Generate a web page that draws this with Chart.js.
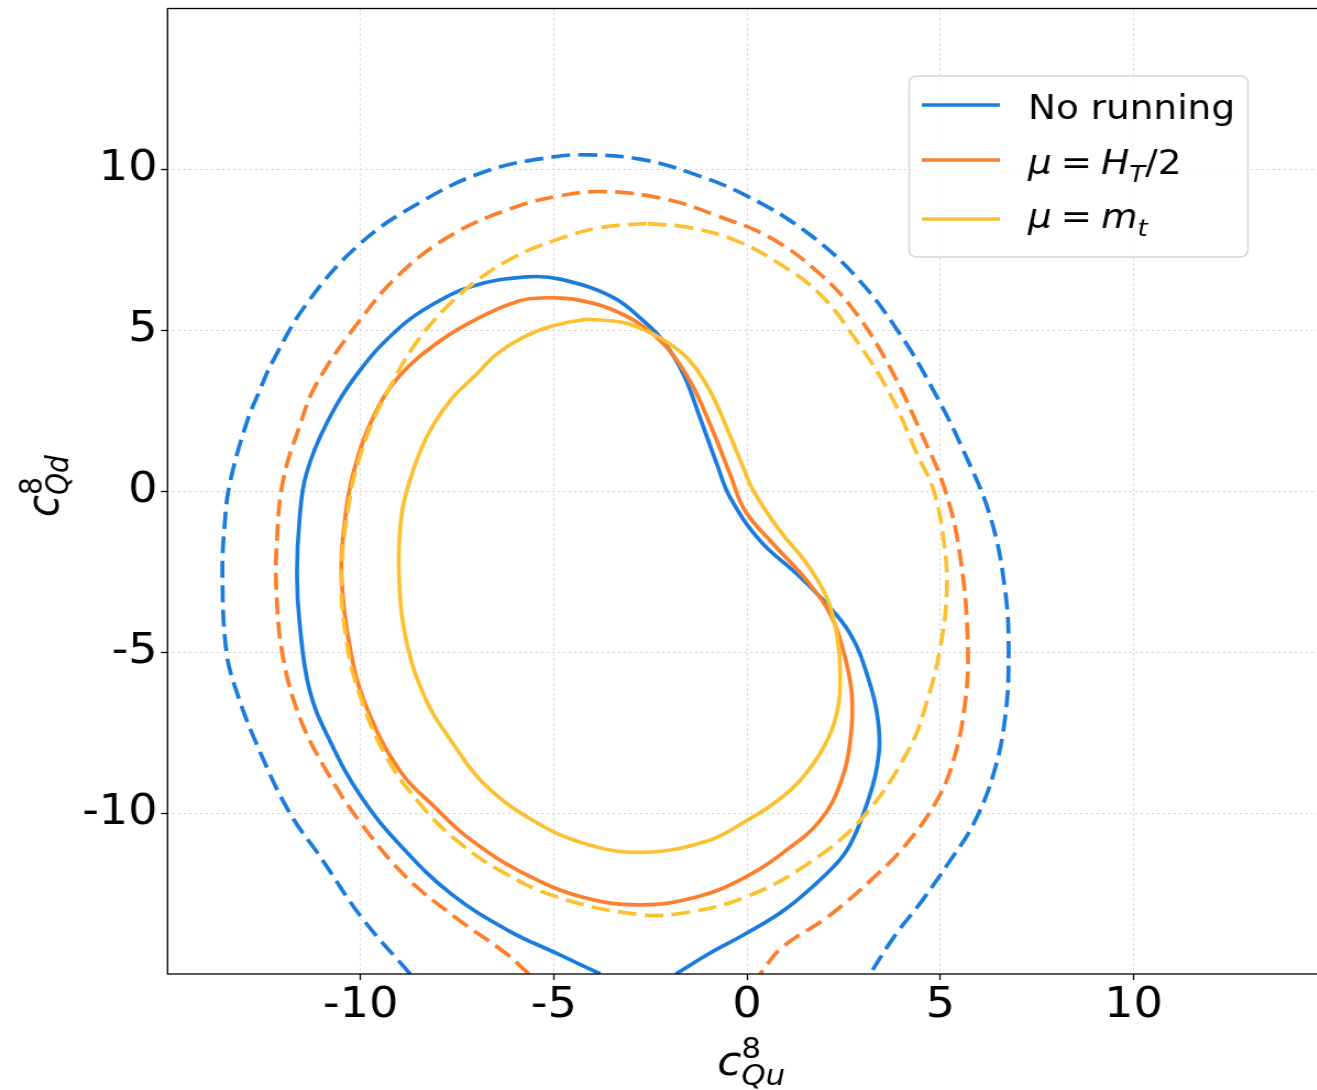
<!DOCTYPE html>
<html>
<head>
<meta charset="utf-8">
<script src="https://cdn.jsdelivr.net/npm/chart.js@4"></script>
<style>
  html, body { margin: 0; padding: 0; background: #fff; overflow: hidden; }
  #chart { display: block; transform: scaleX(1.1); transform-origin: 0 0; }
</style>
</head>
<body>
<canvas id="chart" width="1206" height="1090"></canvas>
<script>
// Ticks shown on both axes
const xTicks = [-10, -5, 0, 5, 10];
const yTicks = [-10, -5, 0, 5, 10];

// Legend labels and colours
const seriesLabels = ['No running', 'μ = H_T/2', 'μ = m_t'];
const seriesColors = ['#1a7ddd', '#fd7f2c', '#fbc132'];

// No running, outer contour (dashed)
const noRunDashX = [-8.72, -9.98, -11.04, -11.84, -12.62, -13.22, -13.48, -13.58, -13.52, -13.39, -12.96, -12.62, -12.27, -11.41, -10.03, -8.47, -6.74, -5.02, -4.07, -2.77, -1.48, -0.01, 1.55, 2.84, 3.96, 4.83, 5.60, 6.30, 6.68, 6.77, 6.68, 6.38, 5.86, 5.26, 4.53, 3.83, 3.18];
const noRunDashY = [-15.0, -13.24, -11.37, -9.99, -8.06, -6.20, -4.95, -2.57, -1.01, 0.23, 2.10, 3.12, 4.05, 5.81, 7.68, 8.97, 9.95, 10.39, 10.45, 10.32, 9.90, 9.18, 8.04, 6.64, 4.88, 3.12, 1.26, -0.81, -3.09, -5.06, -7.02, -8.78, -10.34, -11.47, -12.72, -13.80, -15.0];

// No running, inner contour (solid)
const noRunSolidX = [-3.80, -4.91, -6.18, -7.66, -8.93, -9.98, -10.80, -11.32, -11.58, -11.65, -11.58, -11.41, -10.89, -10.03, -8.99, -8.13, -7.09, -5.71, -4.84, -3.46, -2.69, -2.17, -1.65, -1.22, -0.78, -0.44, 0.34, 1.29, 2.06, 2.67, 3.10, 3.40, 3.36, 3.01, 2.58, 2.05, 1.00, -0.04, -0.99, -1.84];
const noRunSolidY = [-15.0, -14.37, -13.65, -12.51, -11.06, -9.51, -7.75, -6.20, -4.12, -2.57, -0.81, 0.53, 2.09, 3.74, 5.09, 5.81, 6.38, 6.66, 6.59, 6.02, 5.30, 4.67, 3.64, 2.29, 0.84, -0.19, -1.54, -2.57, -3.50, -4.43, -5.68, -7.23, -8.58, -10.02, -11.16, -11.89, -12.98, -13.75, -14.37, -15.0];

// mu = H_T/2, outer contour (dashed)
const htDashX = [-5.65, -6.23, -7.55, -8.82, -9.98, -10.89, -11.58, -12.01, -12.18, -12.17, -12.01, -11.58, -11.15, -10.03, -8.99, -7.61, -6.05, -4.84, -3.63, -2.08, -0.78, 0.60, 1.89, 2.84, 3.70, 4.48, 5.13, 5.52, 5.71, 5.65, 5.34, 4.91, 4.09, 3.19, 2.07, 0.91, 0.33];
const htDashY = [-15.0, -14.37, -13.24, -11.99, -10.34, -8.68, -7.02, -5.16, -3.19, -1.54, 0.33, 2.03, 3.33, 5.30, 6.75, 7.99, 8.81, 9.18, 9.31, 9.07, 8.56, 7.88, 6.75, 5.50, 3.84, 1.88, 0.02, -2.06, -4.64, -6.51, -8.37, -9.61, -11.01, -12.10, -13.24, -14.17, -15.0];

// mu = H_T/2, inner contour (solid)
const htSolidX = [-5.19, -4.50, -3.63, -2.77, -2.08, -1.48, -0.96, -0.44, -0.05, 0.68, 1.55, 2.15, 2.49, 2.71, 2.67, 2.41, 1.89, 1.01, -0.04, -1.31, -2.79, -4.27, -5.75, -7.13, -8.08, -8.99, -9.85, -10.28, -10.50, -10.41, -10.20, -9.68, -8.99, -7.95, -7.00, -5.88, -5.19];
const htSolidY = [6.02, 5.97, 5.71, 5.19, 4.47, 3.43, 2.09, 0.53, -0.61, -1.64, -2.78, -3.81, -4.95, -6.30, -7.75, -9.09, -10.23, -11.16, -11.99, -12.61, -12.85, -12.61, -11.89, -10.85, -9.82, -8.68, -6.71, -4.85, -2.57, -0.92, 0.53, 2.29, 3.59, 4.67, 5.35, 5.92, 6.02];

// mu = m_t, outer contour (dashed)
const mtDashX = [-2.60, -3.81, -5.02, -6.05, -7.00, -7.87, -8.65, -9.25, -9.68, -10.03, -10.28, -10.50, -10.37, -10.03, -9.33, -8.39, -7.52, -6.39, -4.91, -2.79, -1.52, -0.04, 1.44, 2.92, 4.17, 4.66, 5.00, 5.17, 5.09, 4.83, 4.40, 3.70, 2.84, 1.89, 0.85, -0.27, -1.48, -2.60];
const mtDashY = [8.32, 8.19, 7.78, 7.26, 6.54, 5.61, 4.47, 3.22, 2.19, 1.05, -0.19, -2.57, -4.64, -6.30, -8.27, -9.82, -10.85, -11.79, -12.61, -13.15, -13.08, -12.61, -11.68, -10.23, -8.06, -6.51, -4.85, -3.09, -1.54, 0.02, 1.16, 3.02, 4.67, 6.12, 7.06, 7.78, 8.19, 8.32];

// mu = m_t, inner contour (solid)
const mtSolidX = [-4.15, -3.20, -2.51, -1.99, -1.48, -0.96, -0.53, -0.10, 0.16, 0.85, 1.55, 2.06, 2.32, 2.41, 2.32, 1.98, 1.37, 0.68, -0.01, -0.99, -2.69, -4.17, -5.54, -6.81, -7.66, -8.30, -8.82, -9.01, -8.95, -8.73, -8.30, -7.69, -7.00, -6.48, -5.80, -5.02, -4.15];
const mtSolidY = [5.35, 5.24, 4.93, 4.57, 4.05, 3.12, 1.98, 0.74, 0.02, -1.23, -2.26, -3.30, -4.43, -5.68, -6.92, -7.96, -8.99, -9.71, -10.23, -10.85, -11.22, -10.96, -10.23, -9.09, -7.75, -6.51, -4.64, -2.57, -0.81, 0.33, 1.67, 2.81, 3.64, 4.26, 4.78, 5.14, 5.35];

const FONT = '"DejaVu Sans", "Liberation Sans", sans-serif';

const toPoints = (xs, ys) => xs.map((x, i) => ({ x: x, y: ys[i] }));

const makeSet = (xs, ys, color, dashed) => ({
  data: toPoints(xs, ys),
  showLine: true,
  borderColor: color,
  borderWidth: 3.7,
  borderDash: dashed ? [17, 7.5] : [],
  borderCapStyle: 'butt',
  borderJoinStyle: 'round',
  pointRadius: 0,
  tension: 0.4,
  fill: false
});

// split "c^{8}_{Qu}" style strings into runs
const parseMath = (s) => {
  const runs = [];
  let i = 0;
  while (i < s.length) {
    const ch = s[i];
    if (ch === '^' || ch === '_') {
      let body;
      if (s[i + 1] === '{') {
        const j = s.indexOf('}', i);
        body = s.slice(i + 2, j);
        i = j + 1;
      } else {
        body = s[i + 1];
        i += 2;
      }
      runs.push({ t: body, level: ch === '^' ? 1 : -1 });
    } else {
      runs.push({ t: ch, level: 0 });
      i++;
    }
  }
  return runs;
};

const drawMath = (ctx, str, x, y, size, supDy, subDy, math) => {
  const runs = parseMath(str);
  let cx = x, scriptX = x, prev = 0;
  runs.forEach(r => {
    if (r.level !== 0 && prev !== 0 && prev !== r.level) cx = scriptX;
    if (r.level !== 0 && prev === 0) scriptX = cx;
    const fs = r.level ? size * 0.7 : size;
    for (const ch of r.t) {
      if (math && ch === ' ') { cx += size * 0.24; continue; }
      const italic = math && /[A-Za-zμ]/.test(ch);
      ctx.font = (italic ? 'italic ' : '') + fs + 'px ' + FONT;
      ctx.fillText(ch, cx, y + (r.level === 1 ? supDy : r.level === -1 ? subDy : 0));
      cx += ctx.measureText(ch).width;
    }
    prev = r.level;
  });
};

// frame, axis titles and legend
const decorations = {
  id: 'decorations',
  afterDraw(chart) {
    const ctx = chart.ctx;
    const a = chart.chartArea;
    ctx.save();

    // spines
    ctx.strokeStyle = '#000';
    ctx.lineWidth = 1.3;
    ctx.setLineDash([]);
    ctx.strokeRect(a.left, a.top, a.right - a.left, a.bottom - a.top);

    // axis titles
    ctx.fillStyle = '#000';
    ctx.textBaseline = 'alphabetic';
    ctx.textAlign = 'left';
    drawMath(ctx, 'c^{8}_{Qu}', 652, 1075, 40, -17, 10, true);
    ctx.save();
    ctx.translate(52.7, 517);
    ctx.rotate(-Math.PI / 2);
    drawMath(ctx, 'c^{8}_{Qd}', 0, 0, 40, -15, 9, true);
    ctx.restore();

    // legend box
    const bx = 826.5, by = 76, bw = 308, bh = 181, r = 7;
    ctx.beginPath();
    ctx.moveTo(bx + r, by);
    ctx.arcTo(bx + bw, by, bx + bw, by + bh, r);
    ctx.arcTo(bx + bw, by + bh, bx, by + bh, r);
    ctx.arcTo(bx, by + bh, bx, by, r);
    ctx.arcTo(bx, by, bx + bw, by, r);
    ctx.closePath();
    ctx.fillStyle = 'rgba(255,255,255,0.85)';
    ctx.fill();
    ctx.strokeStyle = '#d6d6d6';
    ctx.lineWidth = 1.5;
    ctx.stroke();

    const lineY = [105, 160, 219];
    const textY = [119, 174, 228];
    seriesLabels.forEach((label, i) => {
      ctx.strokeStyle = seriesColors[i];
      ctx.lineWidth = 3.7;
      ctx.beginPath();
      ctx.moveTo(838, lineY[i]);
      ctx.lineTo(909, lineY[i]);
      ctx.stroke();
      ctx.fillStyle = '#000';
      drawMath(ctx, label, 934.5, textY[i], 34, -13, 8, label.indexOf('=') >= 0);
    });

    ctx.restore();
  }
};

const axisOpts = (tickList, isX) => ({
  type: 'linear',
  min: -15,
  max: 15,
  afterBuildTicks: (axis) => { axis.ticks = tickList.map(v => ({ value: v })); },
  afterFit: (axis) => {
    if (isX) axis.height = 116;
    else axis.width = 152.3;
    axis.paddingTop = 0;
    axis.paddingBottom = 0;
    axis.paddingLeft = 0;
    axis.paddingRight = 0;
  },
  ticks: {
    color: '#000',
    font: { family: FONT, size: 42 },
    padding: isX ? 1 : 3,
    autoSkip: false,
    maxRotation: 0,
    callback: (v) => String(v)
  },
  grid: {
    color: '#cfcfcf',
    lineWidth: 1,
    drawTicks: true,
    tickLength: 6,
    tickColor: '#000',
    tickWidth: 1.3,
    tickBorderDash: []
  },
  border: { display: false, dash: [2, 3] }
});

new Chart(document.getElementById('chart'), {
  type: 'scatter',
  data: {
    datasets: [
      makeSet(mtDashX, mtDashY, seriesColors[2], true),
      makeSet(mtSolidX, mtSolidY, seriesColors[2], false),
      makeSet(htDashX, htDashY, seriesColors[1], true),
      makeSet(htSolidX, htSolidY, seriesColors[1], false),
      makeSet(noRunDashX, noRunDashY, seriesColors[0], true),
      makeSet(noRunSolidX, noRunSolidY, seriesColors[0], false)
    ]
  },
  options: {
    responsive: false,
    animation: false,
    devicePixelRatio: 1,
    layout: { padding: { top: 8.5, left: 0, right: 0, bottom: 0 } },
    scales: {
      x: axisOpts(xTicks, true),
      y: axisOpts(yTicks, false)
    },
    plugins: {
      legend: { display: false },
      tooltip: { enabled: false }
    }
  },
  plugins: [decorations]
});
</script>
</body>
</html>
